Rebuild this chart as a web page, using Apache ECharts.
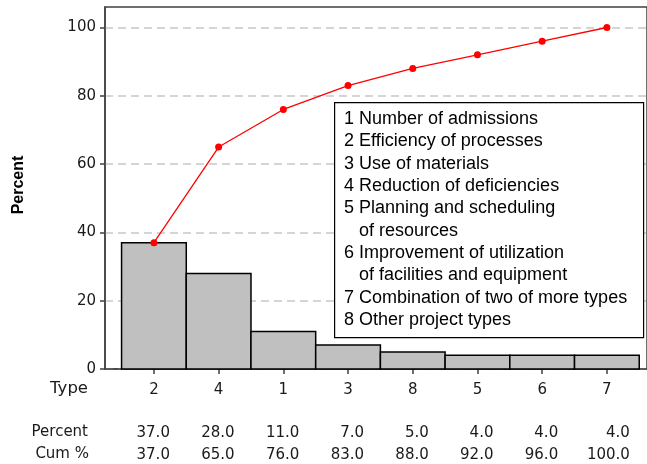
<!DOCTYPE html>
<html>
<head>
<meta charset="utf-8">
<script src="https://cdn.jsdelivr.net/npm/echarts@6/dist/echarts.min.js"></script>
<style>html,body{margin:0;padding:0;background:#fff;}#c{width:647px;height:464px;}</style>
</head>
<body>
<div id="c"></div>
<script>
const categories = ['2', '4', '1', '3', '8', '5', '6', '7'];
const percentValues = [37, 28, 11, 7, 5, 4, 4, 4];
const cumPercent = [37, 65, 76, 83, 88, 92, 96, 100];
const yTicks = [0, 20, 40, 60, 80, 100];
const legendLines = [
  '1 Number of admissions',
  '2 Efficiency of processes',
  '3 Use of materials',
  '4 Reduction of deficiencies',
  '5 Planning and scheduling',
  '   of resources',
  '6 Improvement of utilization',
  '   of facilities and equipment',
  '7 Combination of two of more types',
  '8 Other project types'
];

const FONT = 'DejaVu Sans';
const AXIS_COLOR = '#404040';
const idx = categories.map((c, i) => i);

const chart = echarts.init(document.getElementById('c'), null, {renderer: 'canvas'});
chart.setOption({
  animation: false,
  backgroundColor: '#fff',
  textStyle: {fontFamily: FONT},
  grid: {left: 105, top: 7, right: -2, bottom: 95, show: true, borderColor: AXIS_COLOR, borderWidth: 1.5, backgroundColor: 'transparent'},
  xAxis: {
    type: 'value', min: -0.756, max: 7.62,
    axisLine: {show: true, onZero: false, lineStyle: {color: AXIS_COLOR, width: 1.5}},
    splitLine: {show: false},
    axisTick: {show: true, customValues: idx, length: 5, lineStyle: {color: AXIS_COLOR, width: 1.5}},
    axisLabel: {
      customValues: idx, margin: 11, color: '#1a1a1a', fontFamily: FONT, fontSize: 15,
      formatter: function (v) {
        const i = Math.round(v);
        const last = i === categories.length - 1 ? 'L' : '';
        return '{c' + last + '|' + categories[i] + '}\n{s| }\n{p' + last + '|' + percentValues[i].toFixed(1) + '}\n{q' + last + '|' + cumPercent[i].toFixed(1) + '}';
      },
      rich: {
        c: {width: 32, align: 'center', lineHeight: 20, fontSize: 15, fontFamily: FONT, color: '#1a1a1a'},
        cL: {width: 46, align: 'center', lineHeight: 20, fontSize: 15, fontFamily: FONT, color: '#1a1a1a'},
        s: {lineHeight: 22, fontSize: 10},
        p: {width: 32, align: 'right', lineHeight: 22, fontSize: 15, fontFamily: FONT, color: '#1a1a1a'},
        pL: {width: 46, align: 'right', lineHeight: 22, fontSize: 15, fontFamily: FONT, color: '#1a1a1a'},
        q: {width: 32, align: 'right', lineHeight: 22, fontSize: 15, fontFamily: FONT, color: '#1a1a1a'},
        qL: {width: 46, align: 'right', lineHeight: 22, fontSize: 15, fontFamily: FONT, color: '#1a1a1a'}
      }
    }
  },
  yAxis: {
    type: 'value', min: 0, max: 106, interval: 20,
    name: 'Percent', nameLocation: 'middle', nameGap: 78, nameRotate: 90,
    nameTextStyle: {fontFamily: 'Liberation Sans', fontSize: 16, fontWeight: 'bold', color: '#000', padding: [0, 0, 0, 6]},
    axisLine: {show: true, onZero: false, lineStyle: {color: AXIS_COLOR, width: 1.5}},
    axisTick: {show: true, customValues: yTicks, length: 5, lineStyle: {color: AXIS_COLOR, width: 1.5}},
    axisLabel: {customValues: yTicks, margin: 9, fontSize: 15, fontFamily: FONT, color: '#1a1a1a'},
    splitLine: {show: true, lineStyle: {color: '#c8c8c8', width: 1.5, type: [8, 5]}}
  },
  series: [
    {
      type: 'custom', z: 2,
      renderItem: function (params, api) {
        const i = api.value(0), v = api.value(1);
        const p0 = api.coord([i - 0.5, v]);
        const p1 = api.coord([i + 0.5, 0]);
        return {type: 'rect', shape: {x: p0[0], y: p0[1], width: p1[0] - p0[0], height: p1[1] - p0[1]},
          style: {fill: '#c0c0c0', stroke: '#000', lineWidth: 1.5}};
      },
      data: percentValues.map((v, i) => [i, v])
    },
    {
      type: 'line', z: 3,
      data: cumPercent.map((v, i) => [i, v]),
      symbol: 'circle', symbolSize: 7,
      itemStyle: {color: '#ff0000'},
      lineStyle: {color: '#ff0000', width: 1.3}
    }
  ],
  graphic: [
    {type: 'text', right: 647 - 88, top: 380, style: {text: 'Type', fontFamily: FONT, fontSize: 16.5, fill: '#1a1a1a'}},
    {type: 'text', right: 647 - 88, top: 425, style: {text: 'Percent', fontFamily: FONT, fontSize: 15, fill: '#1a1a1a'}},
    {type: 'text', right: 647 - 89, top: 447, style: {text: 'Cum %', fontFamily: FONT, fontSize: 15, fill: '#1a1a1a'}},
    {type: 'rect', z: 100, left: 334, top: 102, shape: {x: 0, y: 0, width: 309, height: 235}, style: {fill: '#fff', stroke: '#000', lineWidth: 1.2}},
    {type: 'text', z: 101, left: 344, top: 108, style: {text: legendLines.join('\n'), fontFamily: 'Liberation Sans', fontSize: 18, lineHeight: 22.3, fill: '#000'}}
  ]
});
</script>
</body>
</html>
